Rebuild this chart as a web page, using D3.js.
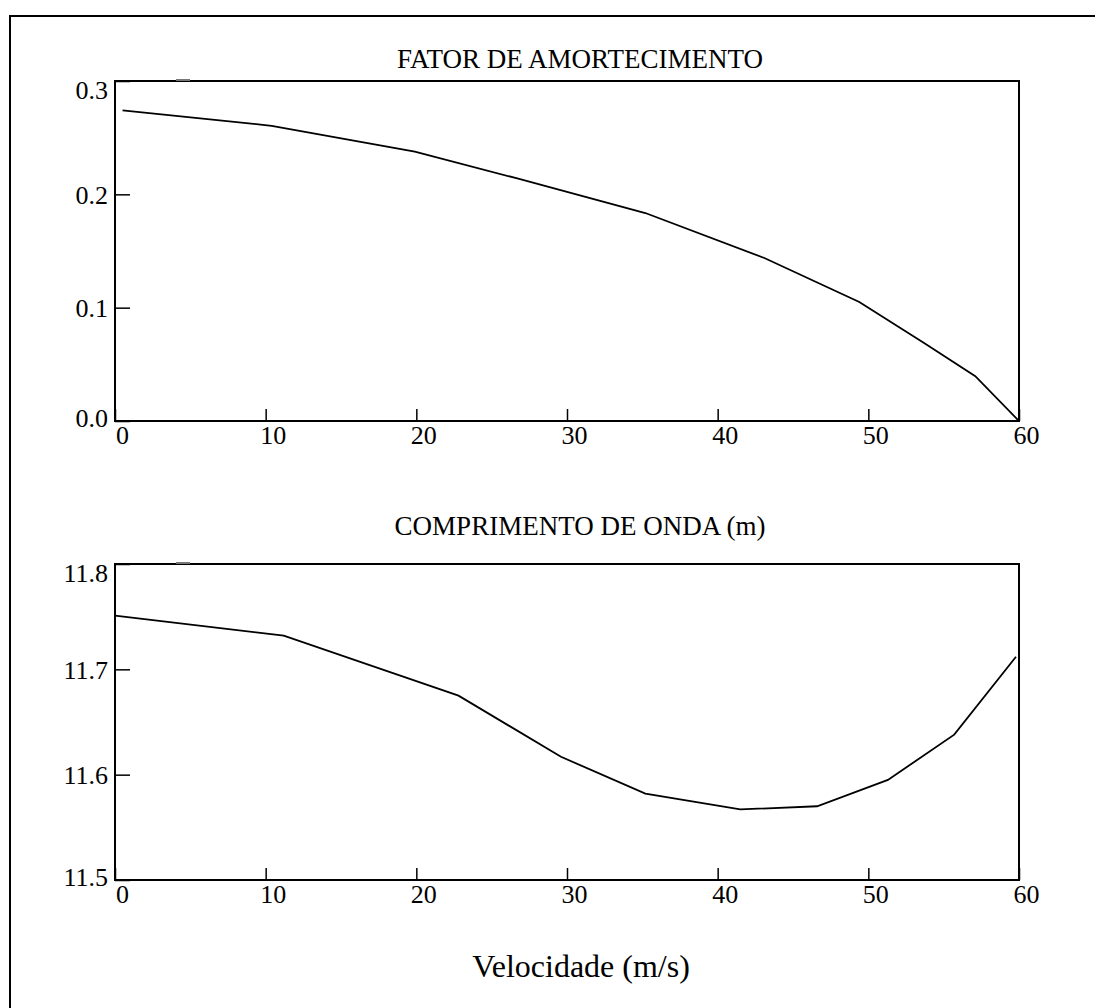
<!DOCTYPE html>
<html>
<head>
<meta charset="utf-8">
<script src="https://cdn.jsdelivr.net/npm/d3@7"></script>
<style>
    body { margin: 0; background: #fff; }
    text { font-family: "Liberation Serif", "Times New Roman", serif; fill: #000; }
</style>
</head>
<body>
<div class="canvas"></div>
<script>
// data
const velAmort = [0.5, 10.4, 19.9, 26.7, 35.2, 43.1, 49.4, 53.7, 57.1, 60];
const amort = [0.274, 0.2605, 0.2376, 0.214, 0.1835, 0.1438, 0.105, 0.0688, 0.0396, 0.0];

const velOnda = [0, 11.2, 22.8, 29.6, 35.2, 41.5, 46.6, 51.3, 55.7, 59.8];
const onda = [11.751, 11.732, 11.675, 11.617, 11.582, 11.567, 11.570, 11.595, 11.638, 11.712];

const xTicks = [0, 10, 20, 30, 40, 50, 60];
const amortTicks = [0, 0.1, 0.2, 0.3];
const ondaTicks = [11.5, 11.6, 11.7, 11.8];

const dim = { width: 1095, height: 1008 };

const svg = d3.select('.canvas').append('svg')
    .attr('width', dim.width)
    .attr('height', dim.height);

// outer frame (runs off the right and bottom edges)
svg.append('rect')
    .attr('x', 10).attr('y', 16)
    .attr('width', 1100).attr('height', 1100)
    .attr('fill', 'none')
    .attr('stroke', '#000')
    .attr('stroke-width', 2);

const x = d3.scaleLinear().domain([0, 60]).range([115, 1019]);

const panels = [
    { title: 'FATOR DE AMORTECIMENTO', titleY: 68, top: 81, bottom: 421,
      domain: [0, 0.3], ticks: amortTicks, fmt: d3.format('.1f'), xs: velAmort, ys: amort },
    { title: 'COMPRIMENTO DE ONDA (m)', titleY: 535, top: 564, bottom: 880,
      domain: [11.5, 11.8], ticks: ondaTicks, fmt: d3.format('.1f'), xs: velOnda, ys: onda }
];

panels.forEach(p => {
    const y = d3.scaleLinear().domain(p.domain).range([p.bottom, p.top]);
    const g = svg.append('g');

    // title
    g.append('text')
        .attr('x', 580).attr('y', p.titleY)
        .attr('text-anchor', 'middle')
        .attr('font-size', 27)
        .text(p.title);

    // x axis: ticks point up into the plot
    const xAxis = d3.axisBottom(x)
        .tickValues(xTicks)
        .tickSizeInner(-12)
        .tickSizeOuter(0)
        .tickFormat(d3.format('d'));
    const gx = g.append('g')
        .attr('transform', `translate(0, ${p.bottom})`)
        .call(xAxis);
    gx.select('.domain').remove();
    gx.selectAll('line').attr('stroke', '#000').attr('stroke-width', 1.5);
    gx.selectAll('text')
        .attr('y', 23).attr('dy', null).attr('dx', 7)
        .attr('font-size', 26)
        .attr('font-family', null);

    // y axis: ticks point right into the plot
    const yAxis = d3.axisLeft(y)
        .tickValues(p.ticks)
        .tickSizeInner(-15)
        .tickSizeOuter(0)
        .tickFormat(p.fmt);
    const gy = g.append('g')
        .attr('transform', `translate(${x.range()[0]}, 0)`)
        .call(yAxis);
    gy.select('.domain').remove();
    gy.selectAll('line').attr('stroke', '#000').attr('stroke-width', 1.5);
    gy.selectAll('text')
        .attr('x', -7)
        .attr('dy', (d, i, n) => i === n.length - 1 ? '0.68em' : (i === 0 ? '0.22em' : '0.35em'))
        .attr('font-size', 26)
        .attr('font-family', null);

    // plot box
    g.append('rect')
        .attr('x', x.range()[0]).attr('y', p.top)
        .attr('width', x.range()[1] - x.range()[0])
        .attr('height', p.bottom - p.top)
        .attr('fill', 'none')
        .attr('stroke', '#000')
        .attr('stroke-width', 2);

    // small grey mark on the top edge
    g.append('line')
        .attr('x1', 176).attr('x2', 190)
        .attr('y1', p.top - 1).attr('y2', p.top - 1)
        .attr('stroke', '#777')
        .attr('stroke-width', 2);

    // the curve
    const line = d3.line()
        .x(d => x(d[0]))
        .y(d => y(d[1]));

    g.append('path')
        .datum(p.xs.map((v, i) => [v, p.ys[i]]))
        .attr('d', line)
        .attr('fill', 'none')
        .attr('stroke', '#000')
        .attr('stroke-width', 1.8);
});

// shared x label
svg.append('text')
    .attr('x', 581).attr('y', 977)
    .attr('text-anchor', 'middle')
    .attr('font-size', 32)
    .text('Velocidade (m/s)');
</script>
</body>
</html>
